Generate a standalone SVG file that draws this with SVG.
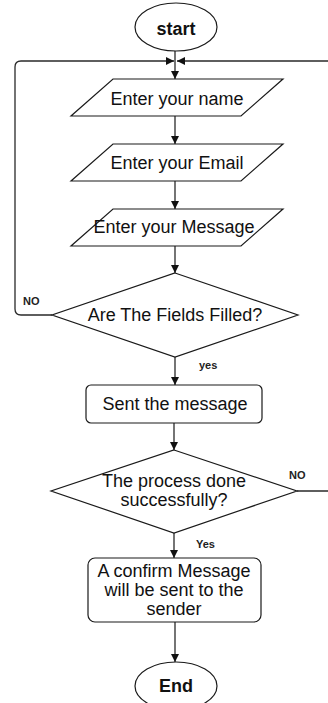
<svg xmlns="http://www.w3.org/2000/svg" width="328" height="703" viewBox="0 0 328 703">
  <style>
    .shape { fill: #ffffff; stroke: #1a1a1a; stroke-width: 1.2; }
    .lbl { font-family: "Liberation Sans", Arial, sans-serif; font-size: 18px; fill: #111; text-anchor: middle; }
    .term { font-family: "Liberation Sans", Arial, sans-serif; font-size: 18px; font-weight: bold; fill: #111; text-anchor: middle; }
    .tag { font-family: "Liberation Sans", Arial, sans-serif; font-size: 11px; font-weight: bold; fill: #222; }
    .conn { fill: none; stroke: #2a2a2a; stroke-width: 1.3; marker-end: url(#arrow); }
  </style>
  <defs>
    <marker id="arrow" viewBox="0 0 10 10" refX="10" refY="5" markerWidth="8" markerHeight="8" markerUnits="userSpaceOnUse" orient="auto">
      <path d="M0,0 L10,5 L0,10 Z" fill="#111"/>
    </marker>
  </defs>
  <rect width="328" height="703" fill="#ffffff"/>

  <!-- connectors -->
  <g id="connectors">
    <path class="conn" d="M175,51 V79"/>
    <path class="conn" d="M175,116 V144"/>
    <path class="conn" d="M175,181 V209"/>
    <path class="conn" d="M175,246 V273"/>
    <path class="conn" d="M52,315 H21 Q15,315 15,309 V67 Q15,61 21,61 H174"/>
    <path class="conn" d="M175,357 V385"/>
    <path class="conn" d="M174,423 V450"/>
    <path class="conn" d="M297,491 H340 V61 H177"/>
    <path class="conn" d="M174,533 V558"/>
    <path class="conn" d="M175,622 V662"/>
    <text class="tag" x="23" y="305">NO</text>
    <text class="tag" x="199" y="369">yes</text>
    <text class="tag" x="289" y="479">NO</text>
    <text class="tag" x="196" y="548">Yes</text>
  </g>

  <g id="start">
    <ellipse class="shape" cx="176" cy="27" rx="41" ry="24"/>
    <text class="term" x="176" y="35">start</text>
  </g>

  <g id="enter-name">
    <polygon class="shape" points="113,79 283,79 241,116 71,116"/>
    <text class="lbl" x="177" y="105">Enter your name</text>
  </g>

  <g id="enter-email">
    <polygon class="shape" points="113,144 283,144 241,181 71,181"/>
    <text class="lbl" x="177" y="169">Enter your Email</text>
  </g>

  <g id="enter-message">
    <polygon class="shape" points="113,209 283,209 241,246 71,246"/>
    <text class="lbl" x="174" y="233">Enter your Message</text>
  </g>

  <g id="fields-filled">
    <polygon class="shape" points="175,273 298,315 175,357 52,315"/>
    <text class="lbl" x="175" y="321">Are The Fields Filled?</text>
  </g>

  <g id="send-message">
    <rect class="shape" x="86" y="385" width="176" height="38" rx="5"/>
    <text class="lbl" x="175" y="410">Sent the message</text>
  </g>

  <g id="process-done">
    <polygon class="shape" points="174,450 297,491 174,533 51,491"/>
    <text class="lbl" x="174" y="487">The process done</text>
    <text class="lbl" x="174" y="506">successfully?</text>
  </g>

  <g id="confirm">
    <rect class="shape" x="88" y="558" width="173" height="64" rx="7"/>
    <text class="lbl" x="174" y="577">A confirm Message</text>
    <text class="lbl" x="174" y="596">will be sent to the</text>
    <text class="lbl" x="174" y="615">sender</text>
  </g>

  <g id="end">
    <ellipse class="shape" cx="176" cy="686" rx="41" ry="24"/>
    <text class="term" x="176" y="692">End</text>
  </g>
</svg>
